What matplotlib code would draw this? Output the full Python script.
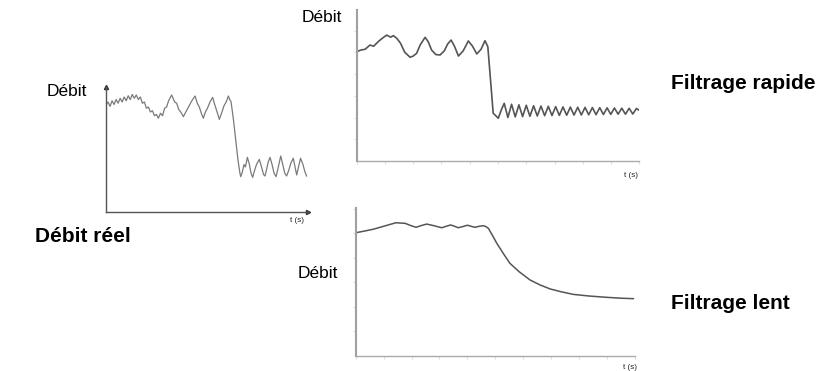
import numpy as np
import matplotlib
matplotlib.use("Agg")
import matplotlib.pyplot as plt

plt.rcParams['font.family'] = ['Liberation Sans', 'DejaVu Sans']

# Débit réel (noisy measured flow)
reel_t = [0, 1, 2, 3, 4, 5, 6, 7, 8, 9, 10, 11, 12, 13, 14, 15,
          16, 17, 18, 19, 20, 21, 22, 23, 24, 25, 25.9,
          27, 28, 29, 30, 31, 32.5, 34, 35, 36, 37, 38.3,
          39.5, 40.5, 41.5, 42.5, 44.1, 45.2, 46.2, 47.2, 48.2,
          49.2, 50.2, 51.5, 52.8, 53.8, 55, 56.1, 57.2, 58.4, 59.5, 60.6,
          61.2, 61.9, 63, 64.2, 65.3, 66.3, 66.7, 67.5, 68.3, 69, 70,
          71, 71.8, 72.6, 73.5, 74.5, 75.9, 77, 78, 78.7, 79.5, 80.3, 81.2,
          82.2, 83.2, 84.2, 85.3, 86.5, 87.5, 88.5, 89.4, 90.4, 91.5, 92.7,
          93.6, 94.4, 95.3, 96.3, 97.5, 98.5, 99.3]
reel_v = [85.6, 88, 84.5, 89, 86, 90, 87, 91, 88, 92, 89, 93, 90, 94, 91, 93.6,
          90, 92, 87, 88, 83, 84, 80, 81, 77, 78, 75,
          79, 77, 83, 84, 89, 93.6, 88, 87, 82, 80, 76.3,
          80, 83, 86, 89, 92.8, 87, 84, 79, 75,
          80, 83, 88, 91.7, 86, 80, 74.1, 79, 85, 88, 92.8,
          90, 88.3, 75, 58, 42, 31, 28.3, 32, 38, 36, 43.7,
          38, 31, 27.7, 33, 38, 42.1, 36, 30, 28.8, 34, 40, 43.7,
          38, 31, 28.3, 36, 44.8, 38, 31, 28.8, 33, 39, 43,
          36, 29.6, 36, 43, 38, 32, 28.8]

# Filtrage rapide
rapide_t = [0, 1.5, 3, 4.7, 6, 7.6, 9, 10.6, 12, 13, 14.2, 15.5, 17, 18.9, 20,
            21.2, 22.5, 24.2, 25.3, 26.5, 28, 29.5, 31, 32.2, 33.4, 34.6, 36,
            37.7, 39.5, 41, 42.5, 44, 45.4, 46.4, 47.3, 48.3, 49.2, 50.1, 51.2,
            52.2, 53.5, 54.8, 56.1, 57.4, 58.7, 60.0, 61.3, 62.6, 63.9, 65.2,
            66.5, 67.8, 69.1, 70.4, 71.7, 73.0, 74.3, 75.6, 76.9, 78.2, 79.5,
            80.8, 82.1, 83.4, 84.7, 86.0, 87.3, 88.6, 89.9, 91.2, 92.5, 93.8,
            95.1, 96.4, 97.7, 99.0, 100]
rapide_v = [72.4, 73.5, 74, 76.8, 76, 79, 81.2, 83.4, 82, 83, 81.2, 78, 72, 68.7, 69.5,
            71.3, 77, 81.9, 79, 73.5, 70.5, 70.2, 73, 77.5, 80.1, 76, 69.5,
            73, 79.5, 76, 70.9, 74, 79.7, 75.7, 55, 31.6, 30, 28.3, 34,
            38.2, 28.8, 37.6, 29.2, 37.2, 29.4, 36.9, 29.6, 36.6, 29.8, 36.4,
            30.0, 36.2, 30.1, 36.0, 30.2, 35.8, 30.3, 35.7, 30.4, 35.6, 30.5,
            35.5, 30.6, 35.4, 30.7, 35.3, 30.8, 35.2, 30.9, 35.1, 31.0, 35.0,
            31.0, 34.9, 31.1, 34.8, 33.5]

# Filtrage lent
lent_t = [0, 3, 6.3, 10, 14.4, 17.7, 19.7, 21.6, 23.5, 25.4, 28, 30.8, 32.4, 34,
          35.4, 36.7, 38.3, 40, 41.3, 42.7, 44.2, 45.7, 46.6, 47.5, 49, 50.5,
          52.8, 55.2, 58.5, 62.4, 66, 69.6, 73.5, 77.9, 83.5, 89.9, 95, 99.4]
lent_v = [83.4, 84.5, 85.8, 87.8, 90.2, 89.8, 88.3, 87.1, 88.3, 89.3, 88.2, 86.8, 87.8, 88.7,
          87.8, 86.8, 87.6, 88.5, 87.8, 87.1, 87.8, 88.2, 87.6, 86.4, 81.5, 76.3,
          69.5, 62.7, 57, 51.4, 48, 45.3, 43.4, 41.6, 40.5, 39.6, 39, 38.7]

W, H = 822, 371
fig = plt.figure(figsize=(W / 100, H / 100), dpi=100)


def px_axes(x0, x1, ytop, ybot):
    return fig.add_axes([x0 / W, 1 - ybot / H, (x1 - x0) / W, (ybot - ytop) / H])


def ftext(x, y, s, **kw):
    fig.text(x / W, 1 - y / H, s, va='baseline', **kw)


# left panel
ax1 = px_axes(106, 308, 87, 212)
ax1.plot(reel_t, reel_v, color='#7a7a7a', lw=0.9)
ax1.set_xlim(0, 100)
ax1.set_ylim(0, 100)
for s in ['top', 'right']:
    ax1.spines[s].set_visible(False)
for s in ['left', 'bottom']:
    ax1.spines[s].set_color('#555555')
    ax1.spines[s].set_linewidth(1.0)
ax1.set_xticks([])
ax1.set_yticks([])
ax1.plot([0], [1], marker='^', ms=3, color='#333333', transform=ax1.transAxes, clip_on=False)
ax1.plot([1], [0], marker='>', ms=3, color='#333333', transform=ax1.transAxes, clip_on=False)
ax1.patch.set_alpha(0)

# top-right panel
ax2 = px_axes(356.7, 639.3, 10, 161)
ax2.plot(rapide_t, rapide_v, color='#555555', lw=1.2)
ax2.set_xlim(0, 100)
ax2.set_ylim(0, 100)

# bottom-right panel
ax3 = px_axes(355.7, 635, 208.3, 355.7)
ax3.plot(lent_t, lent_v, color='#555555', lw=1.1)
ax3.set_xlim(0, 100)
ax3.set_ylim(0, 100)

for ax, ystep in [(ax2, 14.4), (ax3, 16.6)]:
    for s in ['top', 'right']:
        ax.spines[s].set_visible(False)
    ax.spines['left'].set_color('#a0a0a0')
    ax.spines['left'].set_linewidth(1.5)
    ax.spines['bottom'].set_color('#aaaaaa')
    ax.spines['bottom'].set_linewidth(1.0)
    ax.set_xticks(np.arange(0, 101, 10))
    ax.set_yticks(np.arange(ystep, 100, ystep))
    ax.tick_params(length=2, width=0.8, color='#dddddd',
                   labelbottom=False, labelleft=False)
    ax.patch.set_alpha(0)

# texts
ftext(47, 96.5, 'Débit', fontsize=12.5)
ftext(35, 242, 'Débit réel', fontsize=15, fontweight='bold')
ftext(301.5, 22.5, 'Débit', fontsize=12.5)
ftext(298, 278, 'Débit', fontsize=12.5)
ftext(670.5, 89.3, 'Filtrage rapide', fontsize=15, fontweight='bold')
ftext(670.5, 309.3, 'Filtrage lent', fontsize=15, fontweight='bold')
ftext(297, 222, 't (s)', fontsize=5.8, ha='center', color='#222222')
ftext(631, 177, 't (s)', fontsize=5.8, ha='center', color='#222222')
ftext(630, 369, 't (s)', fontsize=5.8, ha='center', color='#222222')

fig.savefig('out.png', dpi=100)
